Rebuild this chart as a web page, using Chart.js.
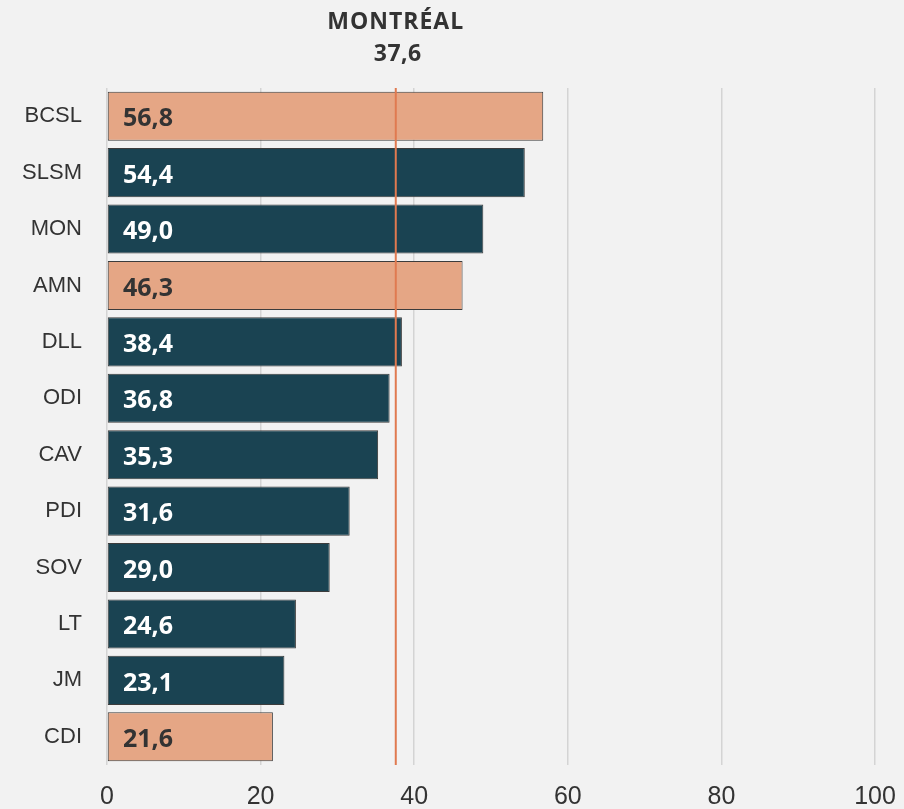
<!DOCTYPE html>
<html>
<head>
<meta charset="utf-8">
<script src="https://cdn.jsdelivr.net/npm/chart.js@4.4.1/dist/chart.umd.min.js"></script>
<style>
  html, body { margin: 0; padding: 0; background: #f2f2f2; }
  #wrap { width: 904px; height: 809px; position: relative; }
</style>
</head>
<body>
<div id="wrap"><canvas id="chart"></canvas></div>
<script>
const regions = ['BCSL', 'SLSM', 'MON', 'AMN', 'DLL', 'ODI', 'CAV', 'PDI', 'SOV', 'LT', 'JM', 'CDI'];
const values = [56.8, 54.4, 49.0, 46.3, 38.4, 36.8, 35.3, 31.6, 29.0, 24.6, 23.1, 21.6];
const highlighted = ['BCSL', 'AMN', 'CDI'];
const refLabel = 'MONTRÉAL';
const refValue = 37.6;

const orange = '#e5a685';
const navy = '#1a4352';

const fmt = v => v.toFixed(1).replace('.', ',');

const barColors = regions.map(r => highlighted.includes(r) ? orange : navy);

const labelsPlugin = {
    id: 'barLabels',
    afterDatasetsDraw(chart) {
        const ctx = chart.ctx;
        const meta = chart.getDatasetMeta(0);
        const xScale = chart.scales.x;
        const area = chart.chartArea;
        ctx.save();

        // valeurs dans les barres
        ctx.font = 'bold 25px "Open Sans"';
        ctx.textBaseline = 'middle';
        ctx.textAlign = 'left';
        meta.data.forEach((bar, i) => {
            ctx.fillStyle = highlighted.includes(regions[i]) ? '#333333' : '#ffffff';
            ctx.fillText(fmt(values[i]), xScale.getPixelForValue(0) + 16, bar.y + 3);
        });

        // ligne de référence
        const x = xScale.getPixelForValue(refValue);
        ctx.strokeStyle = '#e07a50';
        ctx.lineWidth = 2;
        ctx.beginPath();
        ctx.moveTo(x, area.top);
        ctx.lineTo(x, area.bottom);
        ctx.stroke();

        ctx.fillStyle = '#333333';
        ctx.textAlign = 'center';
        ctx.font = 'bold 23px "Open Sans"';
        ctx.letterSpacing = '1px';
        ctx.fillText(refLabel, x, 22);
        ctx.letterSpacing = '0.5px';
        ctx.fillText(fmt(refValue), x + 2, 54);
        ctx.restore();
    }
};

new Chart(document.getElementById('chart'), {
    type: 'bar',
    data: {
        labels: regions,
        datasets: [{
            data: values,
            backgroundColor: barColors,
            borderColor: '#3c3c3c',
            borderWidth: 1,
            borderSkipped: false,
            barPercentage: 0.87,
            categoryPercentage: 1
        }]
    },
    options: {
        indexAxis: 'y',
        responsive: true,
        maintainAspectRatio: false,
        animation: false,
        layout: { padding: { top: 88, right: 29, left: 0, bottom: 0 } },
        plugins: {
            legend: { display: false },
            tooltip: { enabled: false }
        },
        scales: {
            x: {
                min: 0,
                max: 100,
                ticks: {
                    stepSize: 20,
                    color: '#333333',
                    font: { family: 'Liberation Sans', size: 25 },
                    padding: 17
                },
                grid: { color: '#d4d4d4', lineWidth: 1.5, drawTicks: false },
                border: { display: false },
                afterFit(scale) {
                    scale.height = 44;
                    scale.paddingLeft = 0;
                    scale.paddingRight = 0;
                }
            },
            y: {
                ticks: {
                    color: '#333333',
                    font: { family: 'Liberation Sans', size: 22 },
                    padding: 17
                },
                grid: { display: false },
                border: { display: false },
                afterFit(scale) { scale.width = 107; }
            }
        }
    },
    plugins: [labelsPlugin]
});
</script>
</body>
</html>
